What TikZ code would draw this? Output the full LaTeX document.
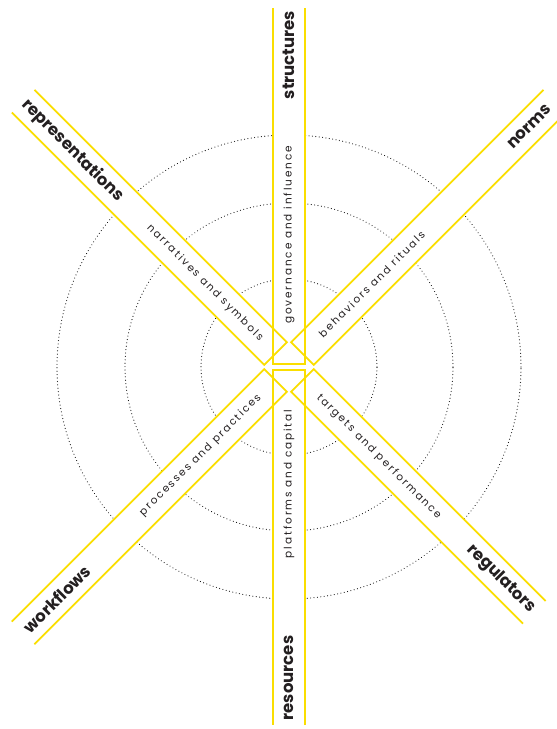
\documentclass[tikz,border=0pt]{standalone}
\usepackage{fontspec}
\setmainfont{Poppins}
\newfontfamily\labfont[LetterSpace=18]{Poppins}
\newfontfamily\headfont{Poppins}
\definecolor{bandyellow}{RGB}{250,222,0}
\definecolor{txtcol}{RGB}{35,31,32}
\tikzset{
  ring/.style={draw=black!90, line width=1.15pt, dash pattern=on 0.01pt off 3.4pt, line cap=round},
  bandline/.style={draw=bandyellow, line width=1.8pt, line join=miter},
  bandfill/.style={fill=white, draw=none},
  inlab/.style={text=txtcol, font=\labfont\fontsize{10.5}{12}\selectfont, inner sep=0pt},
  outlab/.style={text=txtcol, font=\headfont\bfseries\fontsize{16.5}{18}\selectfont, inner sep=0pt}
}
\newcommand{\bandfillpart}[3]{%
  \begin{scope}[rotate=#1]\fill[bandfill] (#2,-16) rectangle (#3,16);\end{scope}}
\newcommand{\bandlinepart}[3]{%
  \begin{scope}[rotate=#1]\draw[bandline] (#3,16) -- (#2,16) -- (#2,-16) -- (#3,-16);\end{scope}}
\begin{document}
\begin{tikzpicture}[x=1pt,y=1pt]
\useasboundingbox (-289,-362) rectangle (268,367);
\clip (-289,-362) rectangle (268,367);
% dotted rings
\draw[ring] (0,0) circle (88);
\draw[ring] (0,0) circle (164);
\draw[ring] (0,0) circle (232);
% band backgrounds
\bandfillpart{90}{3}{359}
\bandfillpart{270}{3}{358}
\bandfillpart{135}{19}{376}
\bandfillpart{45}{19}{376}
\bandfillpart{225}{19}{376}
\bandfillpart{315}{19}{347}
% band outlines
\bandlinepart{135}{19}{376}
\bandlinepart{45}{19}{376}
\bandlinepart{225}{19}{376}
\bandlinepart{315}{19}{347}
\bandlinepart{90}{3}{359}
\bandlinepart{270}{3}{358}
% labels
\node[outlab, rotate=90] (structures) at (90:312) {structures};
\node[inlab, rotate=90] (governance) at (90:132) {governance and influence};
\node[inlab, rotate=90] (platforms) at (270:117) {platforms and capital};
\node[outlab, rotate=90] (resources) at (270:311) {resources};
\node[outlab, rotate=-45] (representations) at (135:306) {representations};
\node[inlab, rotate=-45] (narratives) at (135:119) {narratives and symbols};
\node[outlab, rotate=45] (norms) at (45:340) {norms};
\node[inlab, rotate=45] (behaviors) at (45:117) {behaviors and rituals};
\node[inlab, rotate=45] (processes) at (225:125) {processes and practices};
\node[outlab, rotate=45] (workflows) at (225:328) {workflows};
\node[inlab, rotate=-45] (targets) at (315:127) {targets and performance};
\node[outlab, rotate=-45] (regulators) at (315:300) {regulators};
\end{tikzpicture}
\end{document}
